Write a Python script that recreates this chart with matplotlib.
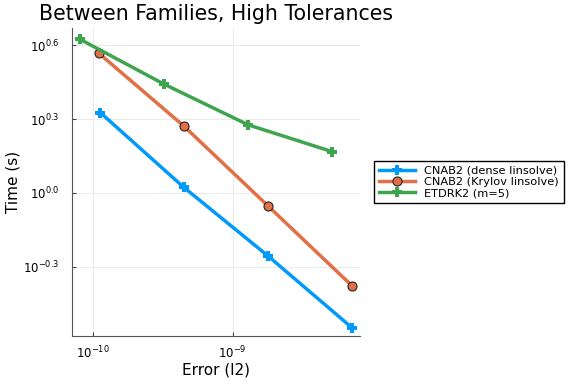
import numpy as np
import matplotlib
matplotlib.use("Agg")
import matplotlib.pyplot as plt
from matplotlib.ticker import FixedLocator, NullLocator

# Values (log-log)
err_dense = [1.12e-10, 4.45e-10, 1.78e-9, 7.15e-9]
time_dense = [2.12, 1.055, 0.557, 0.2845]

err_krylov = [1.10e-10, 4.45e-10, 1.78e-9, 7.15e-9]
time_krylov = [3.68, 1.87, 0.889, 0.421]

err_etd = [8.03e-11, 3.23e-10, 1.29e-9, 5.19e-9]
time_etd = [4.20, 2.76, 1.89, 1.47]

labels = ["CNAB2 (dense linsolve)", "CNAB2 (Krylov linsolve)", "ETDRK2 (m=5)"]
colors = ["#009AFA", "#E26F46", "#3EA44E"]

ytick_exps = [-0.3, 0.0, 0.3, 0.6]
xtick_exps = [-10, -9]

fig = plt.figure(figsize=(5.76, 3.84), dpi=100)
ax = fig.add_axes([0.125, 0.125, 0.5, 0.802])

ax.plot(err_dense, time_dense, color=colors[0], lw=2.5, marker="P",
        markersize=7, markeredgewidth=0, label=labels[0])
ax.plot(err_krylov, time_krylov, color=colors[1], lw=2.5, marker="o",
        markersize=6.5, markeredgecolor="#222222", markeredgewidth=0.8, label=labels[1])
ax.plot(err_etd, time_etd, color=colors[2], lw=2.5, marker="P",
        markersize=7, markeredgewidth=0, label=labels[2])

ax.set_xscale("log")
ax.set_yscale("log")
ax.set_xlim(10 ** -10.153, 10 ** -8.087)
ax.set_ylim(10 ** -0.58, 10 ** 0.669)

ax.xaxis.set_major_locator(FixedLocator([10.0 ** e for e in xtick_exps]))
ax.xaxis.set_minor_locator(NullLocator())
ax.set_xticklabels([r"$10^{%d}$" % e for e in xtick_exps])
ax.yaxis.set_major_locator(FixedLocator([10.0 ** e for e in ytick_exps]))
ax.yaxis.set_minor_locator(NullLocator())
ax.set_yticklabels([r"$10^{%.1f}$" % e if e >= 0 else r"$10^{-%.1f}$" % -e for e in ytick_exps])

ax.tick_params(labelsize=8.5, length=3, direction="in", color="#444444")
ax.tick_params(axis="x", pad=6)
ax.tick_params(axis="y", pad=9)
ax.grid(True, color="#e8e8e8", lw=0.6)
for s in ["top", "right"]:
    ax.spines[s].set_visible(False)
for s in ["left", "bottom"]:
    ax.spines[s].set_color("#555555")

ax.set_xlabel("Error (l2)", fontsize=11, labelpad=1)
ax.set_ylabel("Time (s)", fontsize=11, labelpad=2)
ax.set_title("Between Families, High Tolerances", fontsize=14.8, loc="center")

ax.legend(loc="center left", bbox_to_anchor=(1.03, 0.5), fontsize=8.2,
          fancybox=False, edgecolor="black", framealpha=1,
          handlelength=3.2, borderpad=0.4, labelspacing=0.1)

fig.savefig("out.png", dpi=100)
